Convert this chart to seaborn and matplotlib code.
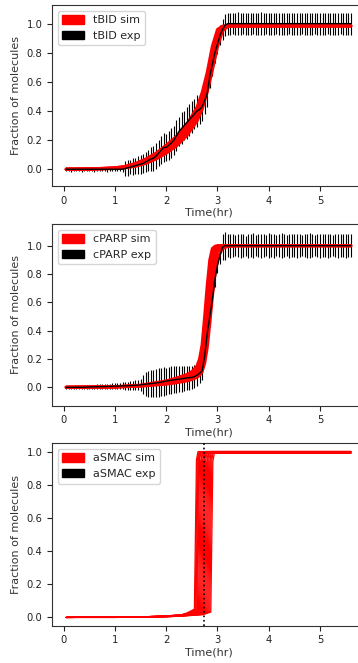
import numpy as np
import pandas as pd
import matplotlib
matplotlib.use("Agg")
import matplotlib.pyplot as plt
from matplotlib.patches import Patch
import seaborn as sns

sns.set_style("ticks")
plt.rcParams['font.family'] = ['DejaVu Sans']

# ---------------- data ----------------
exp_time = [0.05, 0.1, 0.15, 0.2, 0.25, 0.3, 0.35, 0.4, 0.45, 0.5,
            0.55, 0.6, 0.65, 0.7, 0.75, 0.8, 0.85, 0.9, 0.95, 1.0,
            1.05, 1.1, 1.15, 1.2, 1.25, 1.3, 1.35, 1.4, 1.45, 1.5,
            1.55, 1.6, 1.65, 1.7, 1.75, 1.8, 1.85, 1.9, 1.95, 2.0,
            2.05, 2.1, 2.15, 2.2, 2.25, 2.3, 2.35, 2.4, 2.45, 2.5,
            2.55, 2.6, 2.65, 2.7, 2.75, 2.8, 2.85, 2.9, 2.95, 3.0,
            3.05, 3.1, 3.15, 3.2, 3.25, 3.3, 3.35, 3.4, 3.45, 3.5,
            3.55, 3.6, 3.65, 3.7, 3.75, 3.8, 3.85, 3.9, 3.95, 4.0,
            4.05, 4.1, 4.15, 4.2, 4.25, 4.3, 4.35, 4.4, 4.45, 4.5,
            4.55, 4.6, 4.65, 4.7, 4.75, 4.8, 4.85, 4.9, 4.95, 5.0,
            5.05, 5.1, 5.15, 5.2, 5.25, 5.3, 5.35, 5.4, 5.45, 5.5,
            5.55, 5.6]

tbid_exp_mean = [0, 0, 0, 0, 0, 0, 0, 0, 0, 0,
                 0, 0, 0, 0, 0, 0, 0, 0, 0, 0,
                 0, 0, 0, 0.005, 0.01, 0.015, 0.02, 0.025, 0.03, 0.035,
                 0.04, 0.05, 0.06, 0.07, 0.075, 0.09, 0.11, 0.13, 0.15, 0.15,
                 0.165, 0.18, 0.2, 0.23, 0.26, 0.28, 0.3, 0.32, 0.34, 0.36,
                 0.38, 0.4, 0.41, 0.43, 0.47, 0.52, 0.64, 0.72, 0.8, 0.86,
                 0.92, 0.96, 0.99, 1, 1, 1, 1, 1, 1, 1,
                 1, 1, 1, 1, 1, 1, 1, 1, 1, 1,
                 1, 1, 1, 1, 1, 1, 1, 1, 1, 1,
                 1, 1, 1, 1, 1, 1, 1, 1, 1, 1,
                 1, 1, 1, 1, 1, 1, 1, 1, 1, 1,
                 1, 1]
tbid_exp_err = [0.015, 0.015, 0.016, 0.015, 0.014, 0.015, 0.016, 0.015, 0.015, 0.014,
                0.015, 0.016, 0.015, 0.015, 0.014, 0.015, 0.016, 0.015, 0.015, 0.015,
                0.015, 0.015, 0.02, 0.05, 0.055, 0.05, 0.06, 0.055, 0.06, 0.065,
                0.065, 0.07, 0.075, 0.08, 0.085, 0.09, 0.09, 0.095, 0.1, 0.095,
                0.1, 0.1, 0.1, 0.105, 0.1, 0.11, 0.1, 0.11, 0.11, 0.11,
                0.105, 0.11, 0.1, 0.1, 0.09, 0.09, 0.08, 0.08, 0.07, 0.07,
                0.07, 0.075, 0.075, 0.075, 0.076, 0.074, 0.075, 0.077, 0.075, 0.074,
                0.076, 0.075, 0.075, 0.074, 0.076, 0.075, 0.077, 0.075, 0.074, 0.075,
                0.076, 0.075, 0.074, 0.075, 0.076, 0.075, 0.075, 0.074, 0.076, 0.075,
                0.075, 0.076, 0.074, 0.075, 0.075, 0.076, 0.075, 0.074, 0.075, 0.076,
                0.075, 0.075, 0.074, 0.076, 0.075, 0.075, 0.076, 0.074, 0.075, 0.075,
                0.076, 0.075]

cparp_exp_mean = [0, 0, 0, 0, 0, 0, 0, 0, 0.002, 0.002,
                  0.003, 0.003, 0.004, 0.004, 0.005, 0.005, 0.006, 0.006, 0.007, 0.008,
                  0.008, 0.009, 0.01, 0.01, 0.011, 0.012, 0.013, 0.014, 0.015, 0.017,
                  0.02, 0.022, 0.024, 0.026, 0.028, 0.03, 0.033, 0.036, 0.04, 0.044,
                  0.047, 0.05, 0.052, 0.055, 0.058, 0.06, 0.063, 0.066, 0.068, 0.07,
                  0.075, 0.085, 0.1, 0.115, 0.22, 0.38, 0.5, 0.62, 0.76, 0.86,
                  0.93, 0.99, 1, 1, 1, 1, 1, 1, 1, 1,
                  1, 1, 1, 1, 1, 1, 1, 1, 1, 1,
                  1, 1, 1, 1, 1, 1, 1, 1, 1, 1,
                  1, 1, 1, 1, 1, 1, 1, 1, 1, 1,
                  1, 1, 1, 1, 1, 1, 1, 1, 1, 1,
                  1, 1]
cparp_exp_err = [0.01, 0.01, 0.01, 0.012, 0.012, 0.012, 0.013, 0.013, 0.014, 0.014,
                 0.015, 0.015, 0.016, 0.016, 0.017, 0.018, 0.018, 0.019, 0.02, 0.02,
                 0.022, 0.022, 0.024, 0.026, 0.028, 0.03, 0.032, 0.034, 0.036, 0.04,
                 0.07, 0.085, 0.09, 0.095, 0.095, 0.1, 0.1, 0.1, 0.1, 0.095,
                 0.095, 0.1, 0.095, 0.095, 0.09, 0.09, 0.09, 0.085, 0.085, 0.08,
                 0.08, 0.075, 0.07, 0.06, 0.05, 0.05, 0.05, 0.05, 0.05, 0.05,
                 0.06, 0.09, 0.1, 0.08, 0.085, 0.08, 0.075, 0.08, 0.085, 0.08,
                 0.07, 0.085, 0.08, 0.09, 0.075, 0.08, 0.085, 0.08, 0.075, 0.09,
                 0.08, 0.085, 0.075, 0.08, 0.09, 0.08, 0.075, 0.085, 0.08, 0.08,
                 0.085, 0.08, 0.075, 0.08, 0.085, 0.09, 0.08, 0.075, 0.08, 0.085,
                 0.08, 0.08, 0.085, 0.08, 0.075, 0.08, 0.085, 0.08, 0.08, 0.085,
                 0.08, 0.08]

# simulated trajectories (red)
tbid_sim_time = [0.05, 0.5, 1.0, 1.2, 1.4, 1.6, 1.8, 2.0, 2.2, 2.4, 2.6,
                 2.7, 2.8, 2.9, 3.0, 3.1, 3.2, 3.3, 3.5, 4.0, 5.6]
tbid_sim_runs = [
    [0, 0.002, 0.01, 0.02, 0.04, 0.07, 0.11, 0.165, 0.225, 0.305, 0.425, 0.525, 0.665, 0.845, 0.96, 0.983, 0.985, 0.985, 0.985, 0.985, 0.985],
    [0, 0.002, 0.009, 0.018, 0.035, 0.062, 0.1, 0.15, 0.21, 0.285, 0.4, 0.495, 0.63, 0.81, 0.94, 0.98, 0.985, 0.985, 0.985, 0.985, 0.985],
    [0, 0.001, 0.008, 0.016, 0.03, 0.055, 0.09, 0.14, 0.2, 0.27, 0.38, 0.47, 0.6, 0.77, 0.92, 0.975, 0.985, 0.985, 0.985, 0.985, 0.985],
    [0, 0.001, 0.007, 0.014, 0.026, 0.048, 0.08, 0.125, 0.18, 0.25, 0.355, 0.44, 0.565, 0.72, 0.88, 0.965, 0.983, 0.985, 0.985, 0.985, 0.985],
    [0, 0.001, 0.005, 0.01, 0.02, 0.04, 0.07, 0.11, 0.16, 0.23, 0.33, 0.41, 0.53, 0.68, 0.84, 0.95, 0.98, 0.985, 0.985, 0.985, 0.985],
]

cparp_sim_time = [0.05, 0.5, 1.0, 1.5, 2.0, 2.2, 2.4, 2.5, 2.6, 2.65, 2.7,
                  2.75, 2.8, 2.85, 2.9, 2.95, 3.0, 3.05, 3.1, 3.2, 3.4, 5.6]
cparp_sim_runs = [
    [0, 0.001, 0.004, 0.015, 0.045, 0.065, 0.09, 0.11, 0.15, 0.2, 0.3, 0.5, 0.72, 0.9, 0.98, 0.995, 1, 1, 1, 1, 1, 1],
    [0, 0.001, 0.0035, 0.013, 0.04, 0.058, 0.08, 0.1, 0.13, 0.17, 0.25, 0.42, 0.63, 0.82, 0.94, 0.985, 0.997, 1, 1, 1, 1, 1],
    [0, 0.001, 0.003, 0.012, 0.035, 0.05, 0.07, 0.085, 0.11, 0.14, 0.2, 0.33, 0.52, 0.72, 0.88, 0.96, 0.99, 0.997, 1, 1, 1, 1],
    [0, 0.001, 0.003, 0.01, 0.028, 0.04, 0.058, 0.07, 0.09, 0.11, 0.15, 0.25, 0.4, 0.6, 0.78, 0.9, 0.96, 0.985, 0.995, 1, 1, 1],
    [0, 0, 0.002, 0.008, 0.022, 0.032, 0.045, 0.055, 0.07, 0.085, 0.11, 0.17, 0.28, 0.45, 0.64, 0.8, 0.9, 0.95, 0.98, 0.995, 1, 1],
]

# aSMAC: each run has its own time points (switch-like release)
asmac_sim_times = [
    [0.05, 1.0, 1.5, 2.0, 2.3, 2.400, 2.550, 2.590, 2.620, 5.6],
    [0.05, 1.0, 1.5, 2.0, 2.3, 2.415, 2.565, 2.605, 2.635, 5.6],
    [0.05, 1.0, 1.5, 2.0, 2.3, 2.430, 2.580, 2.620, 2.650, 5.6],
    [0.05, 1.0, 1.5, 2.0, 2.3, 2.445, 2.595, 2.635, 2.665, 5.6],
    [0.05, 1.0, 1.5, 2.0, 2.3, 2.460, 2.610, 2.650, 2.680, 5.6],
    [0.05, 1.0, 1.5, 2.0, 2.3, 2.480, 2.630, 2.670, 2.700, 5.6],
    [0.05, 1.0, 1.5, 2.0, 2.3, 2.500, 2.650, 2.690, 2.720, 5.6],
    [0.05, 1.0, 1.5, 2.0, 2.3, 2.520, 2.670, 2.710, 2.740, 5.6],
    [0.05, 1.0, 1.5, 2.0, 2.3, 2.540, 2.690, 2.730, 2.760, 5.6],
    [0.05, 1.0, 1.5, 2.0, 2.3, 2.560, 2.710, 2.750, 2.780, 5.6],
    [0.05, 1.0, 1.5, 2.0, 2.3, 2.580, 2.730, 2.770, 2.800, 5.6],
    [0.05, 1.0, 1.5, 2.0, 2.3, 2.600, 2.750, 2.790, 2.820, 5.6],
    [0.05, 1.0, 1.5, 2.0, 2.3, 2.620, 2.770, 2.810, 2.840, 5.6],
    [0.05, 1.0, 1.5, 2.0, 2.3, 2.640, 2.790, 2.830, 2.860, 5.6],
    [0.05, 1.0, 1.5, 2.0, 2.3, 2.660, 2.810, 2.850, 2.880, 5.6],
    [0.05, 1.0, 1.5, 2.0, 2.3, 2.680, 2.830, 2.870, 2.900, 5.6],
    [0.05, 1.0, 1.5, 2.0, 2.3, 2.700, 2.850, 2.890, 2.920, 5.6],
    [0.05, 1.0, 1.5, 2.0, 2.3, 2.720, 2.870, 2.910, 2.940, 5.6],
]
asmac_sim_runs = [
    [0, 0.001, 0.003, 0.009, 0.016, 0.026, 0.05, 0.95, 1.0, 1.0],
    [0, 0.001, 0.003, 0.009, 0.016, 0.025, 0.048, 0.95, 0.992, 0.992],
    [0, 0.001, 0.003, 0.008, 0.015, 0.025, 0.046, 0.94, 1.0, 1.0],
    [0, 0.001, 0.003, 0.008, 0.015, 0.024, 0.045, 0.95, 0.992, 0.992],
    [0, 0.001, 0.003, 0.008, 0.014, 0.023, 0.044, 0.95, 1.0, 1.0],
    [0, 0.001, 0.003, 0.008, 0.014, 0.023, 0.043, 0.94, 0.992, 0.992],
    [0, 0.001, 0.002, 0.007, 0.013, 0.022, 0.042, 0.95, 1.0, 1.0],
    [0, 0.001, 0.002, 0.007, 0.013, 0.022, 0.041, 0.95, 0.992, 0.992],
    [0, 0.001, 0.002, 0.007, 0.012, 0.021, 0.04, 0.94, 1.0, 1.0],
    [0, 0.001, 0.002, 0.006, 0.012, 0.021, 0.04, 0.95, 0.992, 0.992],
    [0, 0.001, 0.002, 0.006, 0.011, 0.02, 0.039, 0.95, 1.0, 1.0],
    [0, 0.001, 0.002, 0.006, 0.011, 0.02, 0.038, 0.94, 0.992, 0.992],
    [0, 0.001, 0.002, 0.005, 0.01, 0.019, 0.037, 0.95, 1.0, 1.0],
    [0, 0.001, 0.002, 0.005, 0.01, 0.019, 0.036, 0.95, 0.992, 0.992],
    [0, 0, 0.002, 0.005, 0.009, 0.018, 0.035, 0.94, 1.0, 1.0],
    [0, 0, 0.002, 0.004, 0.009, 0.018, 0.034, 0.95, 0.992, 0.992],
    [0, 0, 0.001, 0.004, 0.008, 0.017, 0.033, 0.95, 1.0, 1.0],
    [0, 0, 0.001, 0.004, 0.008, 0.017, 0.032, 0.94, 0.992, 0.992],
]
asmac_exp_time = 2.73

panel_names = ["tBID", "cPARP", "aSMAC"]
x_label = "Time(hr)"
y_label = "Fraction of molecules"

# ---------------- figure ----------------
FS_TICK = 7.2
FS_LAB = 8.0
fig = plt.figure(figsize=(3.58, 6.63), dpi=100)
rects = [
    [52 / 358, 1 - 186 / 663, 313 / 358, 181 / 663],
    [52 / 358, 1 - 405.7 / 663, 313 / 358, 181.7 / 663],
    [52 / 358, 1 - 625.7 / 663, 313 / 358, 182.4 / 663],
]
ylims = [(-0.115, 1.128), (-0.13, 1.153), (-0.05, 1.05)]


def sim_frame(times, runs):
    rows = []
    for r, vals in enumerate(runs):
        ts = times[r] if isinstance(times[0], list) else times
        for t, v in zip(ts, vals):
            rows.append((t, v, r))
    return pd.DataFrame(rows, columns=["t", "value", "run"])


sims = [(tbid_sim_time, tbid_sim_runs), (cparp_sim_time, cparp_sim_runs),
        (asmac_sim_times, asmac_sim_runs)]
sim_lw = [2.2, 2.2, 0.9]
exps = [(tbid_exp_mean, tbid_exp_err), (cparp_exp_mean, cparp_exp_err), None]

for i in range(3):
    ax = fig.add_axes(rects[i])
    if exps[i] is not None:
        m, e = exps[i]
        ax.errorbar(exp_time, m, yerr=e, fmt="none", ecolor="black",
                    elinewidth=0.8, capsize=0, zorder=1)
    df = sim_frame(*sims[i])
    sns.lineplot(data=df, x="t", y="value", units="run", estimator=None,
                 color="red", lw=sim_lw[i], legend=False, ax=ax, zorder=2)
    if exps[i] is not None:
        sns.lineplot(x=exp_time, y=exps[i][0], color="black", lw=1.0,
                     ax=ax, zorder=3)
    else:
        ax.axvline(asmac_exp_time, color="black", ls=":", lw=1.2, zorder=3)

    ax.set_xlim(-0.2275, 5.8775)
    ax.set_ylim(*ylims[i])
    ax.set_xticks([0, 1, 2, 3, 4, 5])
    ax.set_yticks([0, 0.2, 0.4, 0.6, 0.8, 1.0])
    ax.set_yticklabels(["0.0", "0.2", "0.4", "0.6", "0.8", "1.0"])
    ax.tick_params(labelsize=FS_TICK, length=3.5, width=0.8, colors="#222222")
    ax.set_xlabel(x_label, fontsize=FS_LAB, labelpad=1.5, color="#333333")
    ax.set_ylabel(y_label, fontsize=FS_LAB, labelpad=4, color="#333333")
    for s in ax.spines.values():
        s.set_visible(True)
        s.set_linewidth(0.8)
        s.set_color("#333333")
    handles = [Patch(facecolor="red", edgecolor="red"),
               Patch(facecolor="black", edgecolor="black")]
    ax.legend(handles, [panel_names[i] + " sim", panel_names[i] + " exp"],
              loc="upper left", fontsize=FS_LAB, frameon=True, handlelength=2.0,
              handleheight=0.8, fancybox=True, framealpha=0.8, edgecolor="#cccccc")

fig.savefig("out.png", dpi=100)
